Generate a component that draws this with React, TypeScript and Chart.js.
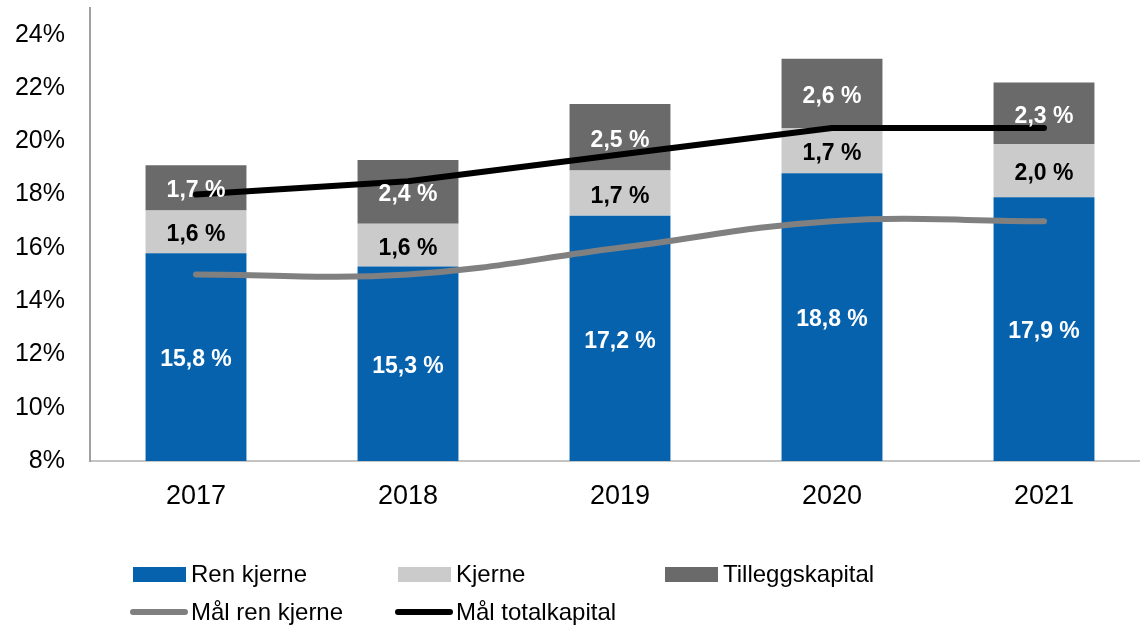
import React, { useEffect, useRef } from "react";
import { Chart, registerables } from "chart.js";

Chart.register(...registerables);

const categories = ["2017", "2018", "2019", "2020", "2021"];
const renKjerne = [15.8, 15.3, 17.2, 18.8, 17.9];
const kjerne = [1.6, 1.6, 1.7, 1.7, 2.0];
const tilleggskapital = [1.7, 2.4, 2.5, 2.6, 2.3];
const malRenKjerne = [15.0, 15.0, 16.0, 17.0, 17.0];
const malTotalkapital = [18.0, 18.5, 19.5, 20.5, 20.5];
const yTickValues = [8, 10, 12, 14, 16, 18, 20, 22, 24];

const FONT = '"Liberation Sans", Arial, sans-serif';
const BLUE = "#0762AE";
const LIGHT = "#CBCBCB";
const DARK = "#6A6A6A";
const LINE_GRAY = "#808080";

const labelPlugin = {
  id: "segLabels",
  afterDatasetsDraw(chart: any) {
    const ctx = chart.ctx;
    const area = chart.chartArea;
    const colors = ["#FFFFFF", "#000000", "#FFFFFF"];
    ctx.save();
    ctx.font = `bold 23px ${FONT}`;
    ctx.textAlign = "center";
    ctx.textBaseline = "middle";
    for (let i = 0; i < 3; i++) {
      const meta = chart.getDatasetMeta(i);
      const data = chart.data.datasets[i].data as number[];
      meta.data.forEach((el: any, j: number) => {
        const top = Math.max(Math.min(el.y, el.base), area.top);
        const bottom = Math.min(Math.max(el.y, el.base), area.bottom);
        const cy = (top + bottom) / 2;
        ctx.fillStyle = colors[i];
        const txt = data[j].toFixed(1).replace(".", ",") + " %";
        ctx.fillText(txt, el.x, cy + 3);
      });
    }
    ctx.restore();
  },
};

const legendItems = [
  { label: "Ren kjerne", kind: "box", color: BLUE, col: 0, row: 0 },
  { label: "Kjerne", kind: "box", color: LIGHT, col: 1, row: 0 },
  { label: "Tilleggskapital", kind: "box", color: DARK, col: 2, row: 0 },
  { label: "Mål ren kjerne", kind: "line", color: LINE_GRAY, col: 0, row: 1 },
  { label: "Mål totalkapital", kind: "line", color: "#000000", col: 1, row: 1 },
];
const legendColX = [133, 398, 665];
const legendRowY = [574, 612];

export default function App() {
  const ref = useRef<HTMLCanvasElement>(null);

  useEffect(() => {
    if (!ref.current) return;
    const chart = new Chart(ref.current, {
      type: "bar",
      data: {
        labels: categories,
        datasets: [
          { type: "bar", label: "Ren kjerne", data: renKjerne, backgroundColor: BLUE, stack: "s", order: 2 },
          { type: "bar", label: "Kjerne", data: kjerne, backgroundColor: LIGHT, stack: "s", order: 2 },
          { type: "bar", label: "Tilleggskapital", data: tilleggskapital, backgroundColor: DARK, stack: "s", order: 2 },
          {
            type: "line", label: "Mål ren kjerne", data: malRenKjerne, borderColor: LINE_GRAY, stack: "l1",
            borderWidth: 6, tension: 0.4, pointRadius: 0, borderCapStyle: "round", borderJoinStyle: "round", order: 1,
          } as any,
          {
            type: "line", label: "Mål totalkapital", data: malTotalkapital, borderColor: "#000000", stack: "l2",
            borderWidth: 6, tension: 0, pointRadius: 0, borderCapStyle: "round", borderJoinStyle: "round", order: 0,
          } as any,
        ],
      },
      options: {
        responsive: false,
        animation: false,
        layout: { padding: { top: 8, right: 2, left: 0, bottom: 0 } },
        datasets: { bar: { categoryPercentage: 1, barPercentage: 0.476 } },
        plugins: { legend: { display: false }, tooltip: { enabled: false } },
        scales: {
          x: {
            stacked: true,
            grid: { display: false, drawTicks: false },
            border: { display: true, color: "#C4C4C4", width: 2 },
            ticks: { color: "#000", font: { family: FONT, size: 27 }, padding: 19 },
            afterFit: (s: any) => { s.height = 166; s.paddingLeft = 0; s.paddingRight = 0; },
          },
          y: {
            stacked: true,
            min: 8,
            max: 25,
            grid: { display: false, drawTicks: false },
            border: { display: true, color: "#A0A0A0", width: 2 },
            ticks: {
              color: "#000",
              font: { family: FONT, size: 25 },
              padding: 25,
              callback: (v: any) => `${v}%`,
            },
            afterBuildTicks: (s: any) => { s.ticks = yTickValues.map((v) => ({ value: v })); },
            afterFit: (s: any) => { s.width = 90; s.paddingTop = 0; s.paddingBottom = 0; },
          },
        },
      },
      plugins: [labelPlugin],
    });
    return () => chart.destroy();
  }, []);

  return (
    <div style={{ position: "absolute", left: 0, top: 0, width: 1140, height: 627, overflow: "hidden", background: "#fff" }}>
      <canvas ref={ref} width={1152} height={627} style={{ position: "absolute", left: 0, top: 0, width: 1152, height: 627 }} />
      {legendItems.map((it) => {
        const x = legendColX[it.col];
        const y = legendRowY[it.row];
        return (
          <div key={it.label}>
            {it.kind === "box" ? (
              <div style={{ position: "absolute", left: x, top: y - 7, width: 53, height: 15, background: it.color }} />
            ) : (
              <div style={{ position: "absolute", left: x - 3, top: y - 3, width: 58, height: 6, borderRadius: 3, background: it.color }} />
            )}
            <div style={{ position: "absolute", left: x + 58, top: y - 14, fontFamily: FONT, fontSize: 24, lineHeight: "28px", color: "#000", whiteSpace: "nowrap" }}>
              {it.label}
            </div>
          </div>
        );
      })}
    </div>
  );
}
